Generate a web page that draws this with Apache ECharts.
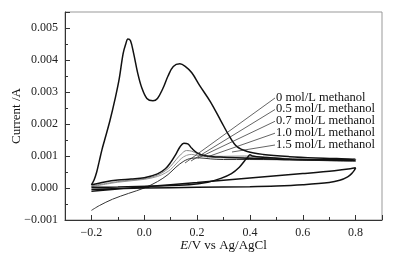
<!DOCTYPE html>
<html>
<head>
<meta charset="utf-8">
<script src="https://cdn.jsdelivr.net/npm/echarts@6/dist/echarts.min.js"></script>
<style>
html, body { margin: 0; padding: 0; background: #fff; }
#chart { width: 393px; height: 257px; }
</style>
</head>
<body>
<div id="chart"></div>
<script>
// curve labels, top to bottom
const curveNames = ["0 mol/L methanol", "0.5 mol/L methanol", "0.7 mol/L methanol", "1.0 mol/L methanol", "1.5 mol/L methanol"];

// [E / V, current / A]
const bigLoop = [
  [-0.2, 0.0001], [-0.19, 0.00025], [-0.18, 0.0005], [-0.17, 0.00085], [-0.16, 0.0012],
  [-0.15, 0.0015], [-0.13, 0.0021], [-0.11, 0.0028], [-0.095, 0.0034], [-0.08, 0.0042],
  [-0.07, 0.0045], [-0.062, 0.00466], [-0.052, 0.0046], [-0.04, 0.0042], [-0.025, 0.0036],
  [-0.01, 0.00315], [0.01, 0.0028], [0.033, 0.00273], [0.05, 0.0028], [0.07, 0.0031],
  [0.09, 0.0035], [0.11, 0.0038], [0.135, 0.00388], [0.155, 0.0038], [0.18, 0.0036],
  [0.21, 0.0032], [0.25, 0.0027], [0.29, 0.0021], [0.32, 0.00165], [0.35, 0.0013],
  [0.39, 0.00114], [0.45, 0.00105], [0.55, 0.00098], [0.65, 0.00094], [0.8, 0.0009],
  [0.7, 0.00088], [0.55, 0.0009], [0.45, 0.00096], [0.41, 0.001], [0.4, 0.00104],
  [0.393, 0.00098], [0.38, 0.00085], [0.36, 0.00065], [0.33, 0.00045], [0.29, 0.0003],
  [0.24, 0.00018], [0.17, 0.0001], [0.05, 0.00006], [-0.1, 0.00003], [-0.2, 0.00002]
];
const lensLoop = [
  [-0.2, -0.0001], [0.0, 0.00004], [0.2, 0.00017], [0.4, 0.00031], [0.6, 0.00045],
  [0.72, 0.00054], [0.78, 0.0006], [0.8, 0.00063], [0.795, 0.00055], [0.785, 0.00045],
  [0.77, 0.00035], [0.74, 0.00024], [0.7, 0.00017], [0.6, 0.0001], [0.5, 0.00006],
  [0.4, 0.00004], [0.2, 0.00002], [0.0, 0.0], [-0.2, -0.00004]
];
const peakScan = [
  [-0.2, 0.0001], [-0.15, 0.00019], [-0.1, 0.00025], [-0.05, 0.00028], [0.0, 0.00032],
  [0.05, 0.00044], [0.08, 0.0006], [0.1, 0.0008], [0.12, 0.00106], [0.135, 0.00128],
  [0.15, 0.0014], [0.165, 0.00138], [0.18, 0.00124], [0.2, 0.0011], [0.23, 0.00101],
  [0.3, 0.00096], [0.4, 0.00093], [0.55, 0.00089], [0.8, 0.00086]
];
const grayScanA = [
  [-0.2, 0.00006], [-0.1, 0.0002], [0.0, 0.00029], [0.05, 0.0004], [0.08, 0.00054],
  [0.1, 0.00068], [0.12, 0.00088], [0.14, 0.00106], [0.16, 0.00117], [0.18, 0.00115],
  [0.2, 0.00108], [0.25, 0.001], [0.3, 0.00099], [0.38, 0.001], [0.45, 0.00097],
  [0.6, 0.0009], [0.8, 0.00087]
];
const grayScanB = [
  [-0.2, 0.00004], [-0.1, 0.00018], [0.0, 0.00027], [0.05, 0.00036], [0.08, 0.00047],
  [0.1, 0.00058], [0.12, 0.00075], [0.14, 0.00092], [0.16, 0.00102], [0.18, 0.00105],
  [0.2, 0.00102], [0.25, 0.00096], [0.3, 0.00094], [0.38, 0.00095], [0.45, 0.00093],
  [0.6, 0.00088], [0.8, 0.00084]
];
const lowStartScan = [
  [-0.2, -0.0007], [-0.17, -0.00055], [-0.12, -0.00035], [-0.06, -0.00017], [0.0, 0.0],
  [0.05, 0.0002], [0.09, 0.00042], [0.12, 0.00065], [0.15, 0.00084], [0.18, 0.00093],
  [0.21, 0.00094], [0.25, 0.00091], [0.3, 0.00089], [0.4, 0.00089], [0.6, 0.00087],
  [0.8, 0.00083]
];

// leader lines: text anchor (px) -> point on the curves (px)
const labelY = [97, 108.5, 120.3, 132.2, 144];
const leaderEnd = [[185, 163], [191, 161], [198, 158], [207, 157], [232, 152]];

const serif = "'Liberation Serif', 'Times New Roman', Times, serif";
const chart = echarts.init(document.getElementById("chart"));

function curve(data, color, width) {
  return {
    type: "line",
    data: data,
    showSymbol: false,
    smooth: 0.35,
    lineStyle: { color: color, width: width },
    z: width > 1.2 ? 3 : 2
  };
}

const graphics = [];
curveNames.forEach((name, i) => {
  graphics.push({
    type: "line",
    shape: { x1: 275, y1: labelY[i] + 1, x2: leaderEnd[i][0], y2: leaderEnd[i][1] },
    style: { stroke: "#222", lineWidth: 0.7 },
    z: 10
  });
  graphics.push({
    type: "text",
    left: 276,
    top: labelY[i] - 6,
    style: { text: name, fontFamily: serif, fontSize: 12.5, lineHeight: 11, fill: "#111" },
    z: 10
  });
});

chart.setOption({
  animation: false,
  grid: { left: 65, right: 11, top: 12, bottom: 37, show: true, borderColor: "#999", borderWidth: 1, outerBoundsMode: "none", containLabel: false },
  xAxis: {
    type: "value",
    min: -0.3,
    max: 0.9,
    splitNumber: 6,
    name: "{i|E}/V vs Ag/AgCl",
    nameLocation: "middle",
    nameGap: 19,
    nameMoveOverlap: false,
    nameTextStyle: { fontFamily: serif, fontSize: 13, color: "#111", rich: { i: { fontStyle: "italic", fontFamily: serif, fontSize: 13 } } },
    axisLine: { onZero: false, lineStyle: { color: "#333", width: 1 } },
    axisTick: { inside: true, length: 5, lineStyle: { color: "#333" } },
    minorTick: { show: true, splitNumber: 2, length: 3, lineStyle: { color: "#333" } },
    splitLine: { show: false },
    axisLabel: {
      showMinLabel: false,
      showMaxLabel: false,
      margin: 7,
      fontFamily: serif,
      fontSize: 12,
      color: "#222",
      formatter: v => (v < -1e-9 ? "\u2212" : "") + Math.abs(v).toFixed(1)
    }
  },
  yAxis: {
    type: "value",
    min: -0.001,
    max: 0.0055,
    splitNumber: 6,
    name: "Current /A",
    nameLocation: "middle",
    nameGap: 42,
    nameMoveOverlap: false,
    nameTextStyle: { fontFamily: serif, fontSize: 13, color: "#111" },
    axisLine: { show: true, onZero: false, lineStyle: { color: "#333", width: 1 } },
    axisTick: { show: true, inside: true, length: 5, lineStyle: { color: "#333" } },
    minorTick: { show: true, splitNumber: 2, length: 3, lineStyle: { color: "#333" } },
    splitLine: { show: false },
    axisLabel: {
      showMaxLabel: false,
      margin: 7,
      fontFamily: serif,
      fontSize: 12,
      color: "#222",
      formatter: v => (v < -1e-9 ? "\u2212" : "") + Math.abs(v).toFixed(3)
    }
  },
  series: [
    curve(lensLoop, "#111", 1.5),
    curve(lowStartScan, "#333", 1),
    curve(grayScanB, "#999", 1),
    curve(grayScanA, "#888", 1),
    curve(peakScan, "#111", 1.5),
    curve(bigLoop, "#111", 1.5)
  ],
  graphic: graphics
});
</script>
</body>
</html>
